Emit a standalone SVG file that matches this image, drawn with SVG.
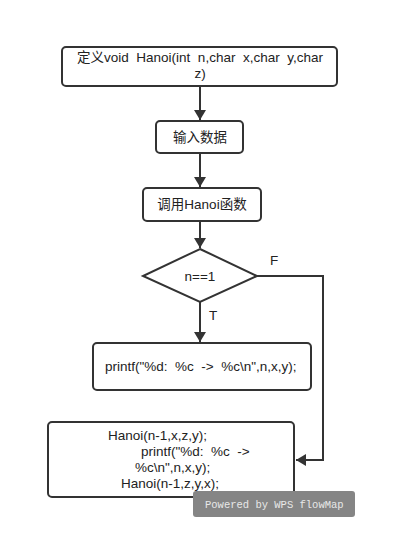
<svg xmlns="http://www.w3.org/2000/svg" width="417" height="560" viewBox="0 0 417 560">
<defs>
<marker id="arr" markerWidth="10" markerHeight="16" refX="10" refY="8" orient="auto" markerUnits="userSpaceOnUse">
<path d="M0,2 L10,8 L0,14 Z" fill="#333"/>
</marker>
<style>
.box{fill:#fff;stroke:#333;stroke-width:2}
.t{font-family:"Liberation Sans","Noto Sans CJK SC",sans-serif;font-size:13.5px;fill:#222;white-space:pre}
.c{text-anchor:middle}
.ln{fill:none;stroke:#333;stroke-width:2}
</style>
</defs>
<rect width="417" height="560" fill="#fff"/>
<g id="connectors">
<line class="ln" x1="200" y1="86" x2="200" y2="120" marker-end="url(#arr)"/>
<line class="ln" x1="200" y1="153" x2="200" y2="187" marker-end="url(#arr)"/>
<line class="ln" x1="200" y1="221" x2="200" y2="248" marker-end="url(#arr)"/>
<line class="ln" x1="200" y1="302" x2="200" y2="342" marker-end="url(#arr)"/>
<polyline class="ln" points="257,276 323,276 323,460 296,460" marker-end="url(#arr)"/>
<text class="t" x="270" y="265">F</text>
<text class="t" x="209" y="320">T</text>
</g>
<g id="n1">
<rect class="box" x="62" y="47" width="275" height="39" rx="4"/>
<text class="t c" x="200" y="62">定义void  Hanoi(int  n,char  x,char  y,char</text>
<text class="t c" x="200" y="78">z)</text>
</g>
<g id="n2">
<rect class="box" x="156" y="121" width="87" height="32" rx="4"/>
<text class="t c" x="200" y="142">输入数据</text>
</g>
<g id="n3">
<rect class="box" x="143" y="188" width="118" height="33" rx="4"/>
<text class="t c" x="202" y="209">调用Hanoi函数</text>
</g>
<g id="n4">
<polygon class="box" points="200,249 257,276 200,302 143,276"/>
<text class="t c" x="200" y="281">n==1</text>
</g>
<g id="n5">
<rect class="box" x="93" y="343" width="218" height="47" rx="4"/>
<text class="t" x="105" y="371">printf("%d:  %c  -&gt;  %c\n",n,x,y);</text>
</g>
<g id="n6">
<rect class="box" x="48" y="422" width="246" height="75" rx="4"/>
<text class="t" x="108" y="440">Hanoi(n-1,x,z,y);</text>
<text class="t" x="141" y="456">printf("%d:  %c  -&gt;</text>
<text class="t" x="135" y="472">%c\n",n,x,y);</text>
<text class="t" x="121" y="488">Hanoi(n-1,z,y,x);</text>
</g>
<g id="watermark">
<rect x="193" y="491" width="162" height="26" rx="3" fill="#858585"/>
<text x="205" y="508" font-family="'Liberation Mono',monospace" font-size="10.5" fill="#e8e8e8">Powered by WPS flowMap</text>
</g>
</svg>
